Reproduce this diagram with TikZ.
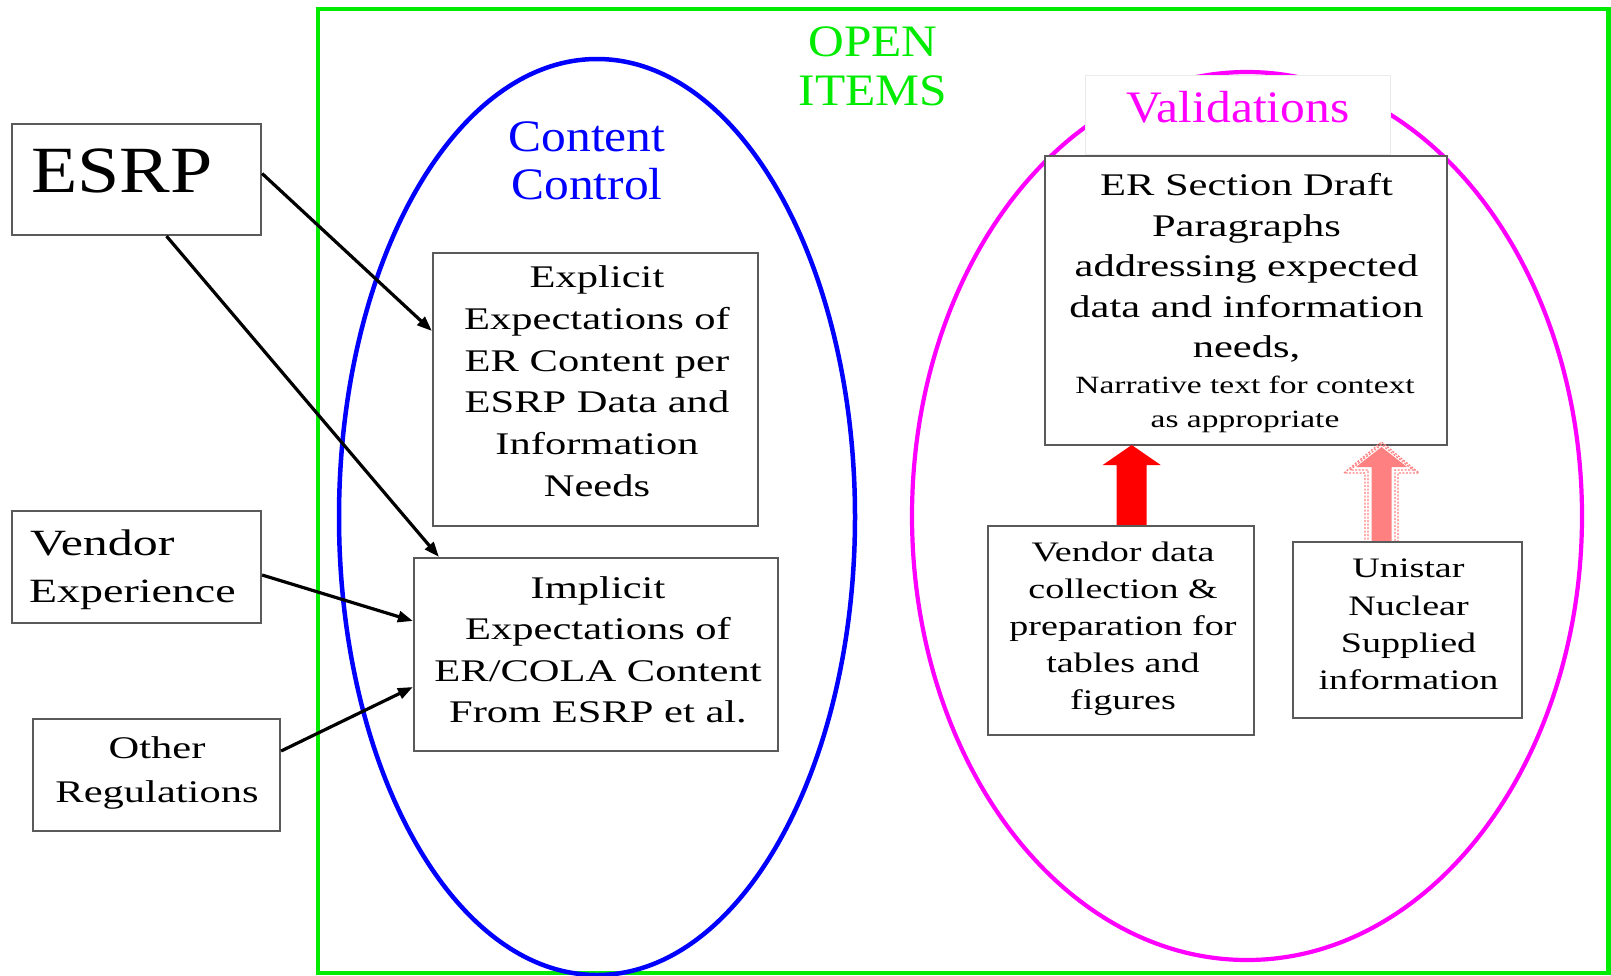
\documentclass[tikz,border=0pt]{standalone}
\usepackage{fontspec}
\setmainfont{Liberation Serif}
\newfontfamily\bodyfont[FakeStretch=1.35]{Liberation Serif}
\newfontfamily\titlefont[FakeStretch=1.1]{Liberation Serif}
\newfontfamily\bigfont[FakeStretch=1.15]{Liberation Serif}
\usetikzlibrary{arrows.meta}
\definecolor{framegreen}{RGB}{0,235,0}
\definecolor{ctrlblue}{RGB}{0,0,255}
\definecolor{valmag}{RGB}{255,0,255}
\definecolor{boxgray}{RGB}{90,90,90}
\definecolor{pinkarrow}{RGB}{255,128,128}

\begin{document}
\begin{tikzpicture}[x=1pt,y=-1pt,
  box/.style={draw=boxgray,line width=2.2pt,fill=white,inner sep=0pt},
  txt/.style={inner sep=0pt,align=center,anchor=north},
  titletxt/.style={txt,font=\titlefont\fontsize{45}{48}\selectfont},
  feed/.style={line width=3.2pt,-{Triangle[length=15pt,width=11pt]}},
]
\useasboundingbox (0,0) rectangle (1611,975);
\fill[white] (0,0) rectangle (1611,975);

% open items frame and the two groups
\draw[framegreen,line width=4.2pt] (318,9) rectangle (1608.5,973);
\draw[ctrlblue,line width=4.5pt] (597,517) ellipse [x radius=258pt,y radius=458pt];
\draw[valmag,line width=4.2pt] (1247,516) ellipse [x radius=335pt,y radius=444pt];

\node[titletxt,text=framegreen,font=\titlefont\fontsize{45}{49}\selectfont] (openitems) at (873,26.4) {OPEN\\ITEMS};
\node[titletxt,text=ctrlblue] (contentctrl) at (587,121.4) {Content\\Control};

\node[draw=black!8,fill=white,minimum width=305pt,minimum height=79pt,inner sep=0pt] (valbox) at (1237.5,114.5) {};
\node[titletxt,text=valmag] (valtitle) at (1238,91.4) {Validations};

% source boxes on the left
\node[box,minimum width=249pt,minimum height=111pt] (esrp) at (136.5,179.5) {};
\node[anchor=base west,inner sep=0pt,font=\bigfont\fontsize{66}{70}\selectfont] (esrpT) at (31,192) {ESRP};

\node[box,minimum width=249pt,minimum height=112pt] (vendor) at (136.5,567) {};
\node[anchor=base west,inner sep=0pt,font=\bodyfont\fontsize{37}{40}\selectfont] (vendorT) at (30,555) {Vendor};
\node[anchor=base west,inner sep=0pt,font=\bodyfont\fontsize{34}{40}\selectfont] (experT) at (29,602) {Experience};

\node[box,minimum width=247pt,minimum height=112pt] (other) at (156.5,775) {};
\node[txt,font=\bodyfont\fontsize{31.5}{44}\selectfont] (otherT) at (157,736.6) {Other\\Regulations};

% content control boxes
\node[box,minimum width=325pt,minimum height=273pt] (explicit) at (595.5,389.5) {};
\node[txt,font=\bodyfont\fontsize{31.5}{41.7}\selectfont] (explicitT) at (597,265.6)
  {Explicit\\Expectations of\\ER Content per\\ESRP Data and\\Information\\Needs};

\node[box,minimum width=364pt,minimum height=193pt] (implicit) at (596,654.5) {};
\node[txt,font=\bodyfont\fontsize{31.5}{41.3}\selectfont] (implicitT) at (598,576.6)
  {Implicit\\Expectations of\\ER/COLA Content\\From ESRP et al.};

% validation boxes
\node[box,minimum width=402pt,minimum height=289pt] (draft) at (1246,300.5) {};
\node[txt,font=\bodyfont\fontsize{31.5}{40.5}\selectfont] (draftT) at (1246.5,173.6)
  {ER Section Draft\\Paragraphs\\addressing expected\\data and information\\needs,};
\node[txt,font=\bodyfont\fontsize{24.8}{34}\selectfont] (draftS) at (1245,376)
  {Narrative text for context\\as appropriate};

% supply arrows into the draft
\fill[red] (1116.7,527) -- (1116.7,465) -- (1102.7,465) -- (1131.7,445)
  -- (1160.7,465) -- (1146.7,465) -- (1146.7,527) -- cycle;
\begin{scope}[pinkarrow,line width=1.3pt,dash pattern=on 2pt off 1.5pt]
  \draw (1365,543) -- (1365,473) -- (1344,473) -- (1381.5,442)
    -- (1419,473) -- (1398,473) -- (1398,543);
  \draw (1368,543) -- (1368,470) -- (1350,470) -- (1381.5,444.5)
    -- (1413,470) -- (1395,470) -- (1395,543);
\end{scope}
\fill[pinkarrow] (1371.5,543) -- (1371.5,467) -- (1356,467) -- (1381.5,447)
  -- (1407,467) -- (1391.5,467) -- (1391.5,543) -- cycle;

\node[box,minimum width=266pt,minimum height=209pt] (vdata) at (1121,630.5) {};
\node[txt,font=\bodyfont\fontsize{28.2}{37}\selectfont] (vdataT) at (1123,541.5)
  {Vendor data\\collection \&\\preparation for\\tables and\\figures};

\node[box,minimum width=229pt,minimum height=176pt] (unistar) at (1407.5,630) {};
\node[txt,font=\bodyfont\fontsize{28.2}{37.3}\selectfont] (unistarT) at (1408.5,559)
  {Unistar\\Nuclear\\Supplied\\information};

% connectors from the sources
\draw[feed] ([yshift=6pt]esrp.east) -- ([yshift=58.5pt]explicit.west);
\draw[feed] ([xshift=30pt]esrp.south) -- ([xshift=26pt]implicit.north west);
\draw[feed] ([yshift=-8pt]vendor.east) -- ([yshift=33.5pt]implicit.west);
\draw[feed] ([yshift=24pt]other.east) -- ([yshift=-32.5pt]implicit.west);
\end{tikzpicture}
\end{document}
